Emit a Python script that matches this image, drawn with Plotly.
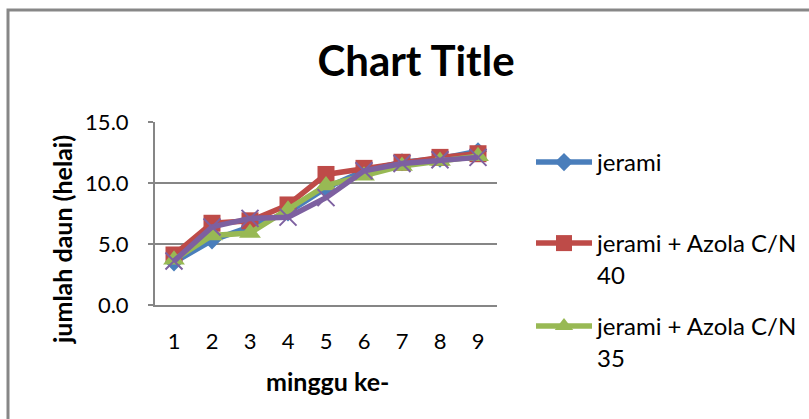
import plotly.graph_objects as go

# weekly observations
minggu = [1, 2, 3, 4, 5, 6, 7, 8, 9]

# leaf counts per treatment
jerami = [3.5, 5.3, 6.4, 7.6, 9.6, 11.0, 11.7, 12.0, 12.6]
jerami_cn40 = [4.1, 6.7, 6.9, 8.2, 10.7, 11.2, 11.7, 12.1, 12.4]
jerami_cn35 = [3.7, 5.7, 5.9, 7.8, 9.8, 10.6, 11.4, 11.8, 12.2]
jerami_seri4 = [3.6, 6.4, 7.1, 7.2, 8.8, 11.0, 11.6, 11.9, 12.1]

names = ["jerami", "jerami + Azola C/N<br>40", "jerami + Azola C/N<br>35", "seri 4"]
y_ticks = [0, 5, 10, 15]

W, H = 809, 419
L, R, T, B = 155, 497, 122, 305  # plot area in pixels

FONT = "Lato, 'Open Sans', sans-serif"
GRID = "#868686"

fig = go.Figure()

series = [
    (jerami, "#4A7EBB", dict(symbol="diamond", size=14)),
    (jerami_cn40, "#BE4B48", dict(symbol="square", size=17)),
    (jerami_cn35, "#98B954", dict(symbol="triangle-up", size=19)),
    (jerami_seri4, "#7D60A0", dict(symbol="x-thin", size=17)),
]

for i, (vals, col, mk) in enumerate(series):
    marker = dict(color=col, **mk)
    if mk["symbol"] == "x-thin":
        marker["line"] = dict(color=col, width=2)
    else:
        marker["line"] = dict(width=0)
    legend_name = "legend" if i == 0 else f"legend{i + 1}"
    fig.add_trace(go.Scatter(
        x=minggu, y=vals, name=names[i], mode="lines+markers",
        line=dict(color=col, width=5.5), marker=marker,
        showlegend=(i < 3), legend=legend_name,
    ))

legend_common = dict(
    xref="container", yref="container", xanchor="left", yanchor="top",
    font=dict(family=FONT, size=24, color="#000000"),
    bgcolor="rgba(0,0,0,0)", borderwidth=0, itemwidth=56, valign="top",
    itemclick=False, itemdoubleclick=False, visible=True,
)
legend_tops = [140, 221, 304]
lx = 531 / W

fig.update_layout(
    width=W, height=H, showlegend=True,
    margin=dict(l=L, r=W - R, t=T, b=H - B, pad=0),
    paper_bgcolor="white", plot_bgcolor="white",
    font=dict(family=FONT, size=22, color="#000000"),
    title=dict(
        text="<b>Chart Title</b>", x=416 / W, xanchor="center", xref="container",
        y=1 - 61 / H, yanchor="middle", yref="container",
        font=dict(family=FONT, size=42, color="#000000"),
    ),
    xaxis=dict(
        range=[0.5, 9.5], tickvals=minggu, ticktext=[str(v) for v in minggu],
        showgrid=False, zeroline=False, showline=True, linecolor=GRID, linewidth=2,
        ticks="", ticklabelstandoff=16,
        tickfont=dict(family=FONT, size=22, color="#000000"),
    ),
    yaxis=dict(
        range=[0, 15], tickvals=y_ticks, tickformat=".1f",
        showgrid=True, gridcolor=GRID, gridwidth=2, zeroline=False,
        showline=True, linecolor=GRID, linewidth=2,
        ticks="outside", ticklen=5, tickcolor=GRID, tickwidth=2,
        ticklabelstandoff=15,
        tickfont=dict(family=FONT, size=22, color="#000000"),
    ),
    legend=dict(x=lx, y=1 - legend_tops[0] / H, **legend_common),
    legend2=dict(x=lx, y=1 - legend_tops[1] / H, **legend_common),
    legend3=dict(x=lx, y=1 - legend_tops[2] / H, **legend_common),
    annotations=[
        dict(text="<b>jumlah daun (helai)</b>", textangle=-90,
             xref="paper", yref="paper",
             x=(62 - L) / (R - L), y=(B - 240) / (B - T),
             xanchor="center", yanchor="middle", showarrow=False,
             font=dict(family=FONT, size=25, color="#000000")),
        dict(text="<b>minggu ke-</b>",
             xref="paper", yref="paper",
             x=(327 - L) / (R - L), y=-(381 - B) / (B - T),
             xanchor="center", yanchor="middle", showarrow=False,
             font=dict(family=FONT, size=25, color="#000000")),
    ],
    shapes=[
        dict(type="rect", xref="paper", yref="paper",
             x0=(8 - L) / (R - L), x1=(W + 20 - L) / (R - L),
             y0=(B - (H + 20)) / (B - T), y1=(B - 10) / (B - T),
             line=dict(color="#878787", width=3), fillcolor="rgba(0,0,0,0)",
             layer="below"),
    ],
)

fig.write_html("out.html")
